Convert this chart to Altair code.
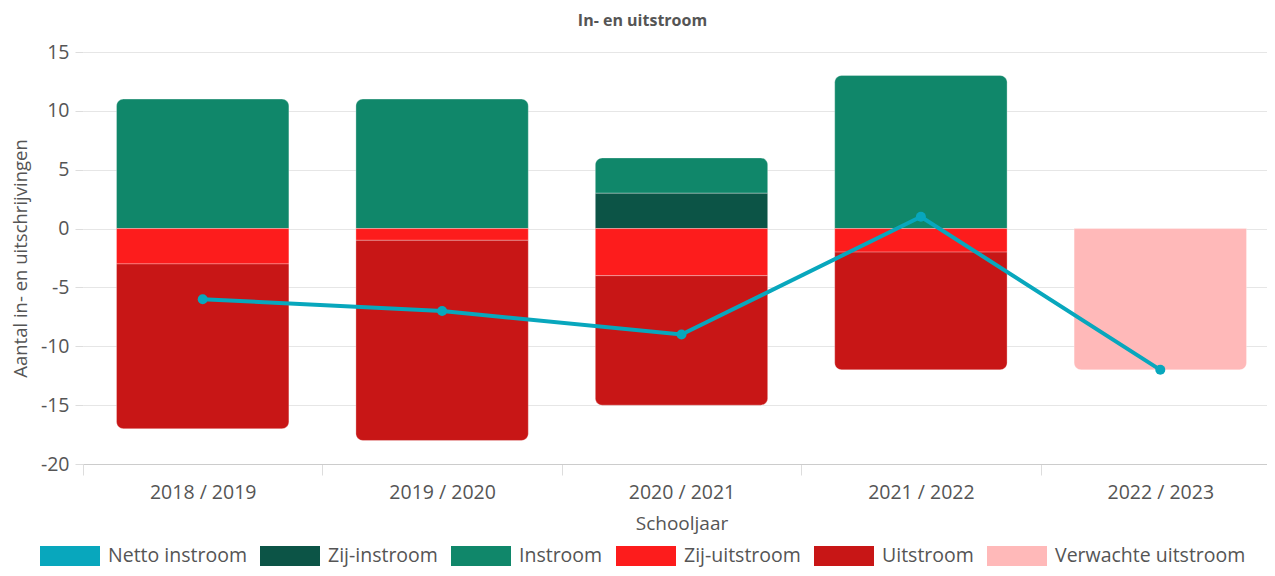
import altair as alt
import pandas as pd

years = ["2018 / 2019", "2019 / 2020", "2020 / 2021", "2021 / 2022", "2022 / 2023"]
zij_instroom = [0, 0, 3, 0, 0]
instroom = [11, 11, 3, 13, 0]
zij_uitstroom = [-3, -1, -4, -2, 0]
uitstroom = [-14, -17, -11, -10, 0]
verwachte_uitstroom = [0, 0, 0, 0, -12]
netto_instroom = [-6, -7, -9, 1, -12]

series_names = ["Netto instroom", "Zij-instroom", "Instroom", "Zij-uitstroom", "Uitstroom", "Verwachte uitstroom"]
series_colors = ["#08a7bd", "#0c5446", "#10876a", "#fd1c1c", "#c81616", "#ffb9b9"]

pos_stack = [("Zij-instroom", zij_instroom), ("Instroom", instroom)]
neg_stack = [("Zij-uitstroom", zij_uitstroom), ("Uitstroom", uitstroom), ("Verwachte uitstroom", verwachte_uitstroom)]

rows = []
for i, yr in enumerate(years):
    for stack, outer in ((pos_stack, "top"), (neg_stack, "bottom")):
        segs = [(n, v[i]) for n, v in stack if v[i] != 0]
        base = 0
        for k, (n, v) in enumerate(segs):
            role = outer if k == len(segs) - 1 else "mid"
            rows.append({"Schooljaar": yr, "Reeks": n, "y0": base, "y1": base + v, "role": role})
            base += v
bars = pd.DataFrame(rows)
line_df = pd.DataFrame({"Schooljaar": years, "Reeks": "Netto instroom", "Waarde": netto_instroom})

FONT = "Open Sans"
GREY = "#555555"

x_enc = alt.X("Schooljaar:N", sort=years, title="Schooljaar",
              scale=alt.Scale(paddingInner=0, paddingOuter=0),
              axis=alt.Axis(tickBand="extent", labelAngle=0, labelFontSize=19.5, labelColor=GREY,
                            titleFontSize=19, titleColor=GREY, titleFontWeight="normal",
                            labelPadding=8, titlePadding=13, tickSize=11,
                            tickColor="#dddddd", domainColor="#cccccc", gridColor="#e6e6e6",
                            labelFont=FONT, titleFont=FONT))
y_scale = alt.Scale(domain=[-20, 15], nice=False)
y_axis = alt.Axis(values=[-20, -15, -10, -5, 0, 5, 10, 15], labelExpr="datum.value + ''",
                  labelFontSize=19.5, labelColor=GREY,
                  titleFontSize=18.5, titleColor=GREY, titleFontWeight="normal", tickSize=8,
                  labelPadding=6, titlePadding=10, tickColor="#dddddd", domain=False,
                  gridColor="#e6e6e6", labelFont=FONT, titleFont=FONT)
color = alt.Color("Reeks:N", scale=alt.Scale(domain=series_names, range=series_colors),
                  legend=alt.Legend(title=None, orient="none", legendX=-23, legendY=494,
                                    direction="horizontal", columns=6,
                                    symbolType="M-3,-1H3V1H-3Z", symbolSize=400,
                                    symbolStrokeWidth=0, labelFontSize=19.5, labelColor=GREY,
                                    labelFont=FONT, labelOffset=28, columnPadding=13,
                                    labelLimit=400, symbolOpacity=1))

R = 7
def bar_layer(role, **corners):
    return alt.Chart(bars).transform_filter(alt.datum.role == role).mark_bar(
        width=alt.RelativeBandSize(0.72), stroke="white", strokeWidth=0.6, strokeOpacity=0.5, **corners
    ).encode(
        x=x_enc,
        y=alt.Y("y0:Q", scale=y_scale, axis=y_axis, title="Aantal in- en uitschrijvingen"),
        y2="y1:Q",
        color=color,
    )

top = bar_layer("top", cornerRadiusTopLeft=R, cornerRadiusTopRight=R)
mid = bar_layer("mid")
bottom = bar_layer("bottom", cornerRadiusBottomLeft=R, cornerRadiusBottomRight=R)

line = alt.Chart(line_df).mark_line(strokeWidth=4, point=alt.OverlayMarkDef(size=100, filled=True, opacity=1)).encode(
    x=alt.X("Schooljaar:N", sort=years),
    y=alt.Y("Waarde:Q", scale=y_scale),
    color=alt.Color("Reeks:N", scale=alt.Scale(domain=series_names, range=series_colors), legend=None),
)

chart = alt.layer(top, mid, bottom, line).properties(
    width=1197, height=412,
    title=alt.Title("In- en uitstroom", fontSize=16, font=FONT, fontWeight="bold", color=GREY,
                    anchor="middle", frame="group", dx=-39, offset=13),
    autosize=alt.AutoSizeParams(type="none"),
    padding={"left": 75, "top": 44, "right": -13, "bottom": 104},
).configure_view(stroke=None).configure_axis(gridWidth=1)

chart.save("out.html", embed_options={"renderer": "svg", "actions": False})
